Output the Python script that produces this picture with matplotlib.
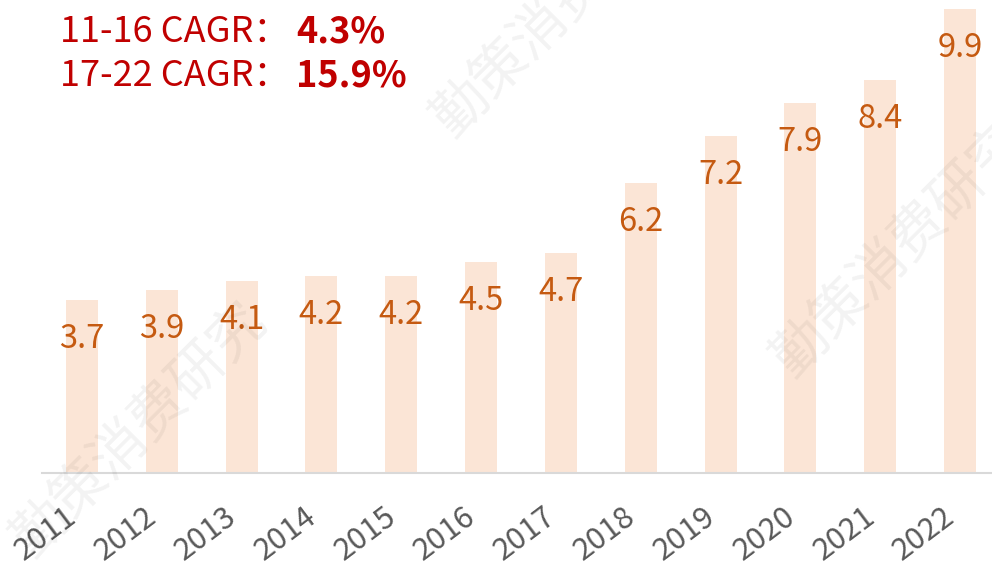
import matplotlib
matplotlib.use("Agg")
import matplotlib.pyplot as plt
from matplotlib.transforms import ScaledTranslation

plt.rcParams['font.family'] = ['Noto Sans CJK SC', 'DejaVu Sans']

years = ['2011', '2012', '2013', '2014', '2015', '2016', '2017', '2018', '2019', '2020', '2021', '2022']
values = [3.7, 3.9, 4.1, 4.2, 4.2, 4.5, 4.7, 6.2, 7.2, 7.9, 8.4, 9.9]
cagr_labels = ['11-16 CAGR：', '17-22 CAGR：']
cagr_values = ['4.3%', '15.9%']

W, H = 992, 566
fig = plt.figure(figsize=(W / 100, H / 100), dpi=100)
ax = fig.add_axes([42 / W, (H - 473) / H, 1 - 42 / W, 473 / H])

x = list(range(len(years)))
ax.bar(x, values, width=0.4, color='#FBE5D6', zorder=2)
ax.set_xlim(-0.5, 11.4)
ax.set_ylim(0, 10.1)

for xi, v in zip(x, values):
    ax.annotate(f'{v}', (xi, v), xytext=(0, -28), textcoords='offset points',
                ha='center', va='center', fontsize=23.5, color='#C55A11', zorder=3)

for s in ['top', 'right', 'left']:
    ax.spines[s].set_visible(False)
ax.spines['bottom'].set_color('#D9D9D9')
ax.spines['bottom'].set_linewidth(1.5)
ax.set_yticks([])
ax.set_xticks(x)
ax.set_xticklabels(years, rotation=37, ha='right', va='top', rotation_mode='anchor',
                   fontsize=22, color='#595959')
ax.tick_params(axis='x', length=0, pad=20)
offset = ScaledTranslation(-18 / 100, 0, fig.dpi_scale_trans)
for lbl in ax.get_xticklabels():
    lbl.set_transform(lbl.get_transform() + offset)

# CAGR annotations
for i, (lab, val) in enumerate(zip(cagr_labels, cagr_values)):
    yy = 1 - (32 + 44 * i) / H
    fig.text(60 / W, yy, lab, fontsize=26, color='#C00000', va='center', ha='left')
    fig.text(296 / W, yy, val, fontsize=26, color='#C00000', va='center', ha='left',
             fontweight='bold')

# watermark
for (wx, wy) in [(140 / W, 1 - 430 / H), (900 / W, 1 - 250 / H), (560 / W, 1 - 10 / H)]:
    fig.text(wx, wy, '勤策消费研究', fontsize=40, color='#000000', alpha=0.05,
             rotation=45, ha='center', va='center', zorder=10)

fig.savefig('out.png', dpi=100)
